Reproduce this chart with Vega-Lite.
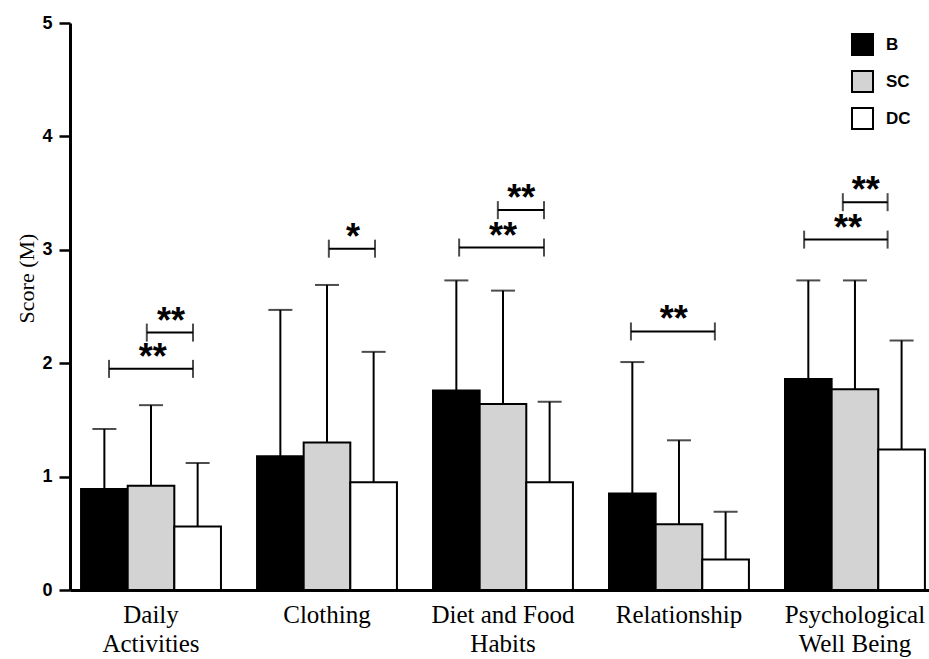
{
  "$schema": "https://vega.github.io/schema/vega-lite/v6.json",
  "width": 859,
  "height": 567,
  "autosize": "none",
  "padding": {"left": 70, "top": 23, "right": 0, "bottom": 69},
  "background": "white",
  "config": {
    "view": {"stroke": null},
    "axis": {"grid": false},
    "axisY": {
      "titleFont": "Liberation Serif",
      "titleFontSize": 22,
      "titleFontWeight": "normal",
      "titleColor": "black",
      "titlePadding": 3,
      "titleY": 255,
      "labelFont": "Liberation Sans",
      "labelFontWeight": "bold",
      "labelFontSize": 18,
      "labelColor": "black",
      "labelPadding": 7,
      "tickSize": 11,
      "tickWidth": 2.5,
      "tickColor": "black",
      "domainColor": "black",
      "domainWidth": 3
    }
  },
  "datasets": {
    "bars": [
      {"domain": "Daily\nActivities", "group": "B", "mean": 0.89, "upper": 1.42},
      {"domain": "Daily\nActivities", "group": "SC", "mean": 0.92, "upper": 1.63},
      {"domain": "Daily\nActivities", "group": "DC", "mean": 0.56, "upper": 1.12},
      {"domain": "Clothing", "group": "B", "mean": 1.18, "upper": 2.47},
      {"domain": "Clothing", "group": "SC", "mean": 1.3, "upper": 2.69},
      {"domain": "Clothing", "group": "DC", "mean": 0.95, "upper": 2.1},
      {"domain": "Diet and Food\nHabits", "group": "B", "mean": 1.76, "upper": 2.73},
      {"domain": "Diet and Food\nHabits", "group": "SC", "mean": 1.64, "upper": 2.64},
      {"domain": "Diet and Food\nHabits", "group": "DC", "mean": 0.95, "upper": 1.66},
      {"domain": "Relationship", "group": "B", "mean": 0.85, "upper": 2.01},
      {"domain": "Relationship", "group": "SC", "mean": 0.58, "upper": 1.32},
      {"domain": "Relationship", "group": "DC", "mean": 0.27, "upper": 0.69},
      {"domain": "Psychological\nWell Being", "group": "B", "mean": 1.86, "upper": 2.73},
      {"domain": "Psychological\nWell Being", "group": "SC", "mean": 1.77, "upper": 2.73},
      {"domain": "Psychological\nWell Being", "group": "DC", "mean": 1.24, "upper": 2.2}
    ],
    "brackets": [
      {"domain": "Daily\nActivities", "id": "g1a", "pos": 0.6, "level": 1.95},
      {"domain": "Daily\nActivities", "id": "g1a", "pos": 2.4, "level": 1.95},
      {"domain": "Daily\nActivities", "id": "g1b", "pos": 1.41, "level": 2.27},
      {"domain": "Daily\nActivities", "id": "g1b", "pos": 2.4, "level": 2.27},
      {"domain": "Clothing", "id": "g2", "pos": 1.54, "level": 3.01},
      {"domain": "Clothing", "id": "g2", "pos": 2.53, "level": 3.01},
      {"domain": "Diet and Food\nHabits", "id": "g3a", "pos": 0.56, "level": 3.02},
      {"domain": "Diet and Food\nHabits", "id": "g3a", "pos": 2.38, "level": 3.02},
      {"domain": "Diet and Food\nHabits", "id": "g3b", "pos": 1.39, "level": 3.35},
      {"domain": "Diet and Food\nHabits", "id": "g3b", "pos": 2.38, "level": 3.35},
      {"domain": "Relationship", "id": "g4", "pos": 0.47, "level": 2.28},
      {"domain": "Relationship", "id": "g4", "pos": 2.27, "level": 2.28},
      {"domain": "Psychological\nWell Being", "id": "g5a", "pos": 0.41, "level": 3.09},
      {"domain": "Psychological\nWell Being", "id": "g5a", "pos": 2.2, "level": 3.09},
      {"domain": "Psychological\nWell Being", "id": "g5b", "pos": 1.24, "level": 3.42},
      {"domain": "Psychological\nWell Being", "id": "g5b", "pos": 2.2, "level": 3.42}
    ],
    "labels": [
      {"domain": "Daily\nActivities", "pos": 1.54, "level": 1.95, "label": "**"},
      {"domain": "Daily\nActivities", "pos": 1.93, "level": 2.27, "label": "**"},
      {"domain": "Clothing", "pos": 2.06, "level": 3.01, "label": "*"},
      {"domain": "Diet and Food\nHabits", "pos": 1.5, "level": 3.02, "label": "**"},
      {"domain": "Diet and Food\nHabits", "pos": 1.89, "level": 3.35, "label": "**"},
      {"domain": "Relationship", "pos": 1.39, "level": 2.28, "label": "**"},
      {"domain": "Psychological\nWell Being", "pos": 1.35, "level": 3.09, "label": "**"},
      {"domain": "Psychological\nWell Being", "pos": 1.73, "level": 3.42, "label": "**"}
    ]
  },
  "encoding": {
    "x": {
      "field": "domain",
      "type": "nominal",
      "scale": {
        "domain": ["Daily\nActivities", "Clothing", "Diet and Food\nHabits", "Relationship", "Psychological\nWell Being"],
        "paddingInner": 0.205,
        "paddingOuter": 0.043,
        "align": 0.73
      },
      "axis": {
        "title": null,
        "labelExpr": "split(datum.label, '\\n')",
        "labelFont": "Liberation Serif",
        "labelFontSize": 25,
        "labelColor": "black",
        "labelLineHeight": 29,
        "labelPadding": 12,
        "labelAngle": 0,
        "labelBaseline": "top",
        "ticks": false,
        "domainColor": "black",
        "domainWidth": 3
      }
    }
  },
  "layer": [
    {
      "data": {"name": "bars"},
      "mark": {"type": "rule", "color": "black", "strokeWidth": 2},
      "encoding": {
        "xOffset": {"field": "group", "type": "nominal", "scale": {"domain": ["B", "SC", "DC"], "paddingInner": 0, "paddingOuter": 0}},
        "y": {
          "field": "mean",
          "type": "quantitative",
          "scale": {"domain": [0, 5], "nice": false},
          "title": "Score (M)",
          "axis": {"values": [0, 1, 2, 3, 4, 5], "format": "d"}
        },
        "y2": {"field": "upper"}
      }
    },
    {
      "data": {"name": "bars"},
      "mark": {"type": "tick", "color": "black", "size": 24, "thickness": 2, "orient": "horizontal"},
      "encoding": {
        "xOffset": {"field": "group", "type": "nominal", "scale": {"domain": ["B", "SC", "DC"], "paddingInner": 0, "paddingOuter": 0}},
        "y": {"field": "upper", "type": "quantitative", "title": "Score (M)", "axis": {"values": [0, 1, 2, 3, 4, 5], "format": "d"}}
      }
    },
    {
      "data": {"name": "bars"},
      "mark": {"type": "bar", "stroke": "black", "strokeWidth": 2, "opacity": 1},
      "encoding": {
        "xOffset": {"field": "group", "type": "nominal", "scale": {"domain": ["B", "SC", "DC"], "paddingInner": 0, "paddingOuter": 0}},
        "y": {"field": "mean", "type": "quantitative", "title": "Score (M)", "axis": {"values": [0, 1, 2, 3, 4, 5], "format": "d"}},
        "fill": {
          "field": "group",
          "type": "nominal",
          "scale": {"domain": ["B", "SC", "DC"], "range": ["black", "#d3d3d3", "white"]},
          "legend": {
            "title": null,
            "orient": "none",
            "legendX": 781,
            "legendY": 10,
            "symbolType": "square",
            "symbolSize": 441,
            "symbolStrokeColor": "black",
            "symbolStrokeWidth": 2,
            "symbolOpacity": 1,
            "labelFont": "Liberation Sans",
            "labelFontWeight": "bold",
            "labelFontSize": 17,
            "labelColor": "black",
            "labelOffset": 12,
            "rowPadding": 8
          }
        }
      }
    },
    {
      "data": {"name": "brackets"},
      "mark": {"type": "line", "color": "black", "strokeWidth": 2},
      "encoding": {
        "xOffset": {"field": "pos", "type": "quantitative", "scale": {"domain": [0, 3]}},
        "y": {"field": "level", "type": "quantitative", "title": "Score (M)", "axis": {"values": [0, 1, 2, 3, 4, 5], "format": "d"}},
        "detail": {"field": "id"}
      }
    },
    {
      "data": {"name": "brackets"},
      "mark": {"type": "tick", "color": "black", "size": 18, "thickness": 2, "orient": "vertical"},
      "encoding": {
        "xOffset": {"field": "pos", "type": "quantitative", "scale": {"domain": [0, 3]}},
        "y": {"field": "level", "type": "quantitative", "title": "Score (M)", "axis": {"values": [0, 1, 2, 3, 4, 5], "format": "d"}}
      }
    },
    {
      "data": {"name": "labels"},
      "mark": {"type": "text", "font": "Liberation Sans", "fontWeight": "bold", "fontSize": 36, "baseline": "alphabetic", "align": "center", "color": "black"},
      "encoding": {
        "xOffset": {"field": "pos", "type": "quantitative", "scale": {"domain": [0, 3]}},
        "y": {"field": "level", "type": "quantitative", "title": "Score (M)", "axis": {"values": [0, 1, 2, 3, 4, 5], "format": "d"}},
        "text": {"field": "label"}
      }
    }
  ],
  "resolve": {"scale": {"xOffset": "independent"}}
}
